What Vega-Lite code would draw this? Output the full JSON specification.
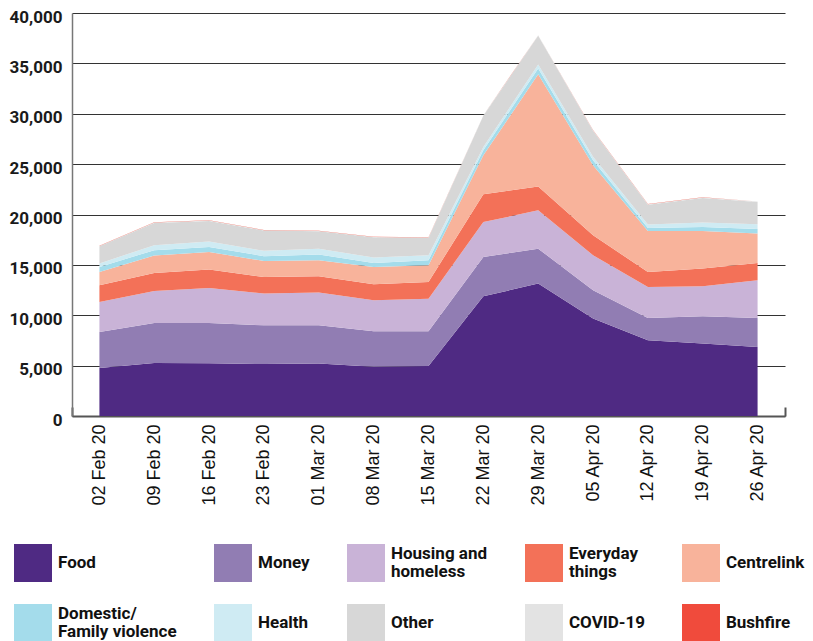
{
  "$schema": "https://vega.github.io/schema/vega-lite/v6.json",
  "width": 713,
  "height": 403,
  "autosize": {"type": "none"},
  "padding": {"left": 72, "top": 13, "right": 28, "bottom": 225},
  "background": "white",
  "config": {"view": {"stroke": null}, "style": {"guide-label": {"lineHeight": 18}}},
  "data": {
    "values": [
      {"week": "02 Feb 20", "Food": 4770, "Money": 3570, "Housing and homeless": 2980, "Everyday things": 1660, "Centrelink": 1320, "Domestic/Family violence": 500, "Health": 340, "Other": 1700, "COVID-19": 40, "Bushfire": 20},
      {"week": "09 Feb 20", "Food": 5260, "Money": 3970, "Housing and homeless": 3180, "Everyday things": 1790, "Centrelink": 1730, "Domestic/Family violence": 530, "Health": 500, "Other": 2200, "COVID-19": 40, "Bushfire": 20},
      {"week": "16 Feb 20", "Food": 5230, "Money": 4000, "Housing and homeless": 3470, "Everyday things": 1830, "Centrelink": 1750, "Domestic/Family violence": 500, "Health": 540, "Other": 2040, "COVID-19": 40, "Bushfire": 20},
      {"week": "23 Feb 20", "Food": 5160, "Money": 3840, "Housing and homeless": 3150, "Everyday things": 1650, "Centrelink": 1590, "Domestic/Family violence": 470, "Health": 530, "Other": 2010, "COVID-19": 40, "Bushfire": 20},
      {"week": "01 Mar 20", "Food": 5200, "Money": 3800, "Housing and homeless": 3250, "Everyday things": 1620, "Centrelink": 1590, "Domestic/Family violence": 570, "Health": 560, "Other": 1740, "COVID-19": 40, "Bushfire": 20},
      {"week": "08 Mar 20", "Food": 4900, "Money": 3500, "Housing and homeless": 3080, "Everyday things": 1590, "Centrelink": 1720, "Domestic/Family violence": 400, "Health": 540, "Other": 2000, "COVID-19": 40, "Bushfire": 20},
      {"week": "15 Mar 20", "Food": 4960, "Money": 3440, "Housing and homeless": 3250, "Everyday things": 1650, "Centrelink": 1660, "Domestic/Family violence": 500, "Health": 500, "Other": 1710, "COVID-19": 40, "Bushfire": 20},
      {"week": "22 Mar 20", "Food": 11880, "Money": 3900, "Housing and homeless": 3470, "Everyday things": 2750, "Centrelink": 3870, "Domestic/Family violence": 500, "Health": 330, "Other": 3100, "COVID-19": 40, "Bushfire": 20},
      {"week": "29 Mar 20", "Food": 13140, "Money": 3470, "Housing and homeless": 3800, "Everyday things": 2380, "Centrelink": 11120, "Domestic/Family violence": 570, "Health": 400, "Other": 2860, "COVID-19": 40, "Bushfire": 20},
      {"week": "05 Apr 20", "Food": 9670, "Money": 2810, "Housing and homeless": 3470, "Everyday things": 1990, "Centrelink": 6950, "Domestic/Family violence": 500, "Health": 330, "Other": 2600, "COVID-19": 40, "Bushfire": 20},
      {"week": "12 Apr 20", "Food": 7510, "Money": 2210, "Housing and homeless": 3080, "Everyday things": 1490, "Centrelink": 4070, "Domestic/Family violence": 300, "Health": 340, "Other": 1970, "COVID-19": 40, "Bushfire": 20},
      {"week": "19 Apr 20", "Food": 7190, "Money": 2710, "Housing and homeless": 2980, "Everyday things": 1760, "Centrelink": 3730, "Domestic/Family violence": 400, "Health": 440, "Other": 2430, "COVID-19": 40, "Bushfire": 20},
      {"week": "26 Apr 20", "Food": 6850, "Money": 2880, "Housing and homeless": 3740, "Everyday things": 1720, "Centrelink": 2920, "Domestic/Family violence": 460, "Health": 470, "Other": 2200, "COVID-19": 40, "Bushfire": 20}
    ]
  },
  "transform": [
    {"fold": ["Food", "Money", "Housing and homeless", "Everyday things", "Centrelink", "Domestic/Family violence", "Health", "Other", "COVID-19", "Bushfire"], "as": ["category", "count"]},
    {"calculate": "indexof(['Food', 'Money', 'Housing and homeless', 'Everyday things', 'Centrelink', 'Domestic/Family violence', 'Health', 'Other', 'COVID-19', 'Bushfire'], datum.category)", "as": "rank"}
  ],
  "mark": {"type": "area", "opacity": 1},
  "encoding": {
    "x": {
      "field": "week",
      "type": "ordinal",
      "sort": null,
      "bandPosition": 0.5,
      "scale": {"type": "band", "paddingInner": 0, "paddingOuter": 0},
      "axis": {
        "title": null,
        "labelAngle": -90,
        "labelAlign": "right",
        "labelBaseline": "middle",
        "labelFont": "Liberation Sans",
        "labelFontSize": 18,
        "labelColor": "#111111",
        "labelPadding": 17,
        "domainColor": "#555555",
        "domainWidth": 2,
        "tickBand": "extent",
        "tickSize": -9,
        "tickColor": "#555555",
        "tickWidth": 2,
        "grid": false
      }
    },
    "y": {
      "field": "count",
      "type": "quantitative",
      "stack": "zero",
      "scale": {"domain": [0, 40000], "nice": false},
      "axis": {
        "title": null,
        "values": [0, 5000, 10000, 15000, 20000, 25000, 30000, 35000, 40000],
        "format": ",d",
        "labelFont": "Roboto",
        "labelFontWeight": "bold",
        "labelFontSize": 17,
        "labelColor": "#1a1a1a",
        "labelPadding": 10,
        "labelOffset": 4,
        "ticks": false,
        "domainColor": "#777777",
        "domainWidth": 1.5,
        "grid": true,
        "gridColor": "#333333",
        "gridWidth": 1.2
      }
    },
    "color": {
      "field": "category",
      "type": "nominal",
      "scale": {
        "domain": ["Food", "Money", "Housing and homeless", "Everyday things", "Centrelink", "Domestic/Family violence", "Health", "Other", "COVID-19", "Bushfire"],
        "range": ["#4F2A83", "#917DB3", "#C9B3D7", "#F37158", "#F8B39B", "#A4DCEB", "#CFEBF3", "#D7D7D7", "#E3E3E3", "#F04B3C"]
      },
      "legend": {
        "title": null,
        "orient": "none",
        "legendX": -58,
        "legendY": 531,
        "direction": "horizontal",
        "columns": 5,
        "padding": 0,
        "symbolType": "square",
        "symbolSize": 1444,
        "symbolStrokeWidth": 0,
        "symbolOpacity": 1,
        "labelFont": "Roboto",
        "labelFontWeight": "bold",
        "labelFontSize": 17,
        "labelColor": "#111111",
        "labelOffset": 6,
        "labelLimit": 300,
        "columnPadding": 37,
        "rowPadding": 22,
        "labelBaseline": {"expr": "indexof(['Housing and homeless', 'Everyday things', 'Domestic/Family violence'], datum.label) >= 0 ? 'line-bottom' : 'middle'"},
        "labelExpr": "datum.label == 'Housing and homeless' ? ['Housing and', 'homeless'] : datum.label == 'Everyday things' ? ['Everyday', 'things'] : datum.label == 'Domestic/Family violence' ? ['Domestic/', 'Family violence'] : datum.label"
      }
    },
    "order": {"field": "rank", "type": "quantitative"}
  }
}
